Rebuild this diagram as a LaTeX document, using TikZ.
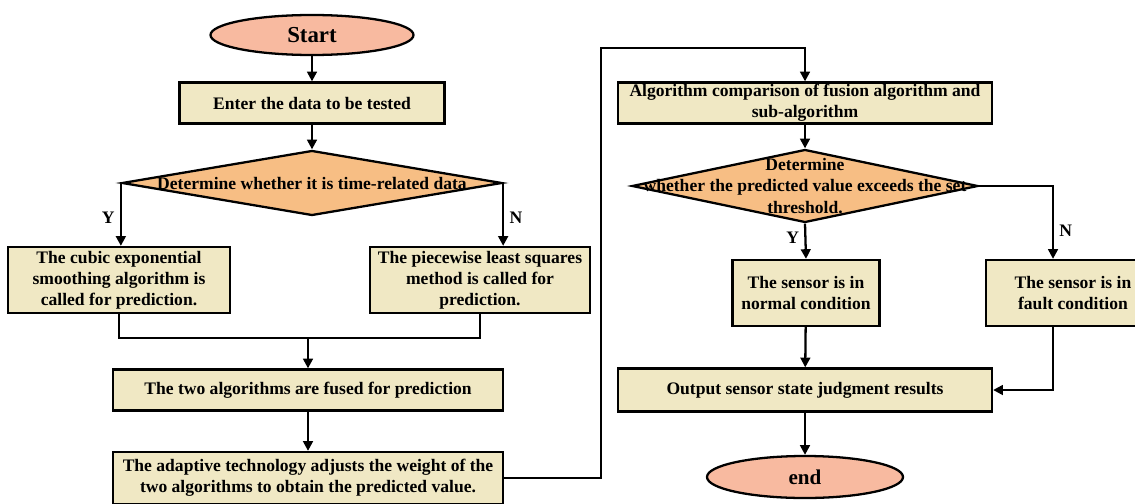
\documentclass[tikz,border=0pt]{standalone}
\usepackage{fontspec}
\setmainfont{Liberation Serif}
\usetikzlibrary{arrows.meta}
\usetikzlibrary{shapes.misc, positioning, shapes.geometric}
\definecolor{termfill}{RGB}{248,186,160}
\definecolor{boxfill}{RGB}{240,232,196}
\definecolor{decfill}{RGB}{247,190,132}

\begin{document}
\begin{tikzpicture}[x=0.2mm, y=-0.2mm, line width=1.3pt, font=\bfseries\fontsize{10}{12}\selectfont,
	term/.style={draw, ellipse, fill=termfill, inner sep=0pt},
	proc/.style={draw, rectangle, fill=boxfill, align=center, inner sep=0pt},
	decision/.style={draw, diamond, fill=decfill, inner sep=0pt},
	dtext/.style={align=center, inner sep=0pt},
	lbl/.style={inner sep=3pt},
	arrow/.style={-{Triangle[length=5.5pt, width=5.5pt]}}]
			\useasboundingbox (0,0) rectangle (1135,503);
			
			\node[term, minimum width=40.6mm, minimum height=8mm, font=\bfseries\fontsize{13}{15}\selectfont] (start) at (312,35) {Start};
			\node[proc, minimum width=53mm, minimum height=8.2mm] (enter) at (312,103) {Enter the data to be tested};
			\node[decision, minimum width=76mm, minimum height=13mm] (dec1) at (312,183) {};
			\node[dtext] (dec1txt) at (dec1) {Determine whether it is time-related data};
			
			\node[proc, minimum width=44.4mm, minimum height=13.2mm] (cubic) at (119,280) {The cubic exponential\\smoothing algorithm is\\called for prediction.};
			\node[proc, minimum width=44mm, minimum height=13.2mm] (piecewise) at (480,280) {The piecewise least squares\\method is called for\\prediction.};
			\coordinate (merge) at (308,338);
			
			\node[proc, minimum width=78mm, minimum height=8.2mm] (fused) at (308,390) {The two algorithms are fused for prediction};
			\node[proc, minimum width=78mm, minimum height=10.4mm] (adapt) at (308,478) {The adaptive technology adjusts the weight of the\\two algorithms to obtain the predicted value.};
			\coordinate (turn) at (601,48);
			
			\node[proc, minimum width=74.8mm, minimum height=8.2mm] (comp) at (805,103) {Algorithm comparison of fusion algorithm and\\sub-algorithm};
			\node[decision, minimum width=69.2mm, minimum height=14.6mm] (dec2) at (805,186) {};
			\node[dtext] (dec2txt) at (dec2) {Determine\\whether the predicted value exceeds the set\\threshold.};
			
			\node[proc, minimum width=29.4mm, minimum height=13.2mm] (normal) at (806,293) {The sensor is in\\normal condition};
			\node[proc, minimum width=34.8mm, minimum height=13.2mm] (fault) at (1073,293) {The sensor is in\\fault condition};
			
			\node[proc, minimum width=74.8mm, minimum height=8.6mm] (output) at (805,390) {Output sensor state judgment results};
			\node[term, minimum width=39.2mm, minimum height=8.4mm, font=\bfseries\fontsize{12}{14}\selectfont] (end) at (805,477) {end};
			
			\draw[arrow] (start) -- (enter);
			\draw[arrow] (enter) -- (dec1);
			\draw[arrow] (dec1.west) -- node[lbl, left, pos=0.55] (y1) {Y} (dec1.west |- cubic.north);
			\draw[arrow] (dec1.east) -- node[lbl, right, pos=0.55] (n1) {N} (dec1.east |- piecewise.north);
			
			\draw (cubic.south) |- (merge) -| (piecewise.south);
			\draw[arrow] (merge) -- (fused);
			\draw[arrow] (fused) -- (adapt);
			\draw[arrow] (adapt.east) -| (turn) -| (comp.north);
			
			\draw[arrow] (comp) -- (dec2);
			\draw[arrow] (dec2.south) -- node[lbl, left, pos=0.4] (y2) {Y} (normal.north);
			\draw[arrow] (dec2.east) -| node[lbl, right, pos=0.81] (n2) {N} ([xshift=-4mm]fault.north);
			
			\draw[arrow] (normal) -- (output);
			\draw[arrow] ([xshift=-4mm]fault.south) |- (output.east);
			\draw[arrow] (output) -- (end);
			\end{tikzpicture}
\end{document}
